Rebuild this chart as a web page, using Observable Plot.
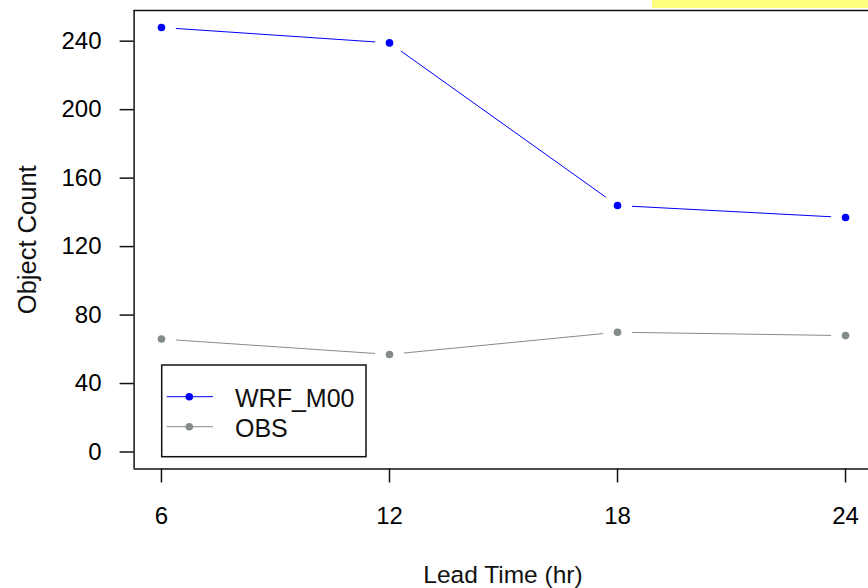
<!DOCTYPE html>
<html>
<head>
<meta charset="utf-8">
<script src="https://cdn.jsdelivr.net/npm/d3@7"></script>
<script src="https://cdn.jsdelivr.net/npm/@observablehq/plot@0.6"></script>
<style>
  html, body { margin: 0; padding: 0; background: white; overflow: hidden; }
  #wrap { position: relative; width: 868px; height: 588px; }
  #hl { position: absolute; left: 652px; top: 0; width: 216px; height: 8px; background: #FFFF80; }
</style>
</head>
<body>
<div id="wrap"><div id="hl"></div></div>
<script>
// ---- data ----
const leadHours = [6, 12, 18, 24];
const seriesNames = ["WRF_M00", "OBS"];
const seriesColors = ["#0000FF", "#838B8B"];
const wrfCounts = [248, 239, 144, 137];
const obsCounts = [66, 57, 70, 68];
const yTickValues = [0, 40, 80, 120, 160, 200, 240];
const xTickValues = [6, 12, 18, 24];
const xTitle = "Lead Time (hr)";
const yTitle = "Object Count";

// R-style 4% padded domains
const xDomain = [6 - 0.04 * 18, 24 + 0.04 * 18];
const yDomain = [0 - 0.04 * 248, 248 + 0.04 * 248];

const rows = [];
leadHours.forEach((h, i) => rows.push({hour: h, value: wrfCounts[i], series: seriesNames[0]}));
leadHours.forEach((h, i) => rows.push({hour: h, value: obsCounts[i], series: seriesNames[1]}));

const font = "'Liberation Sans', Arial, sans-serif";

const chart = Plot.plot({
  width: 868,
  height: 588,
  marginLeft: 133.6,
  marginTop: 10,
  marginBottom: 119.5,
  marginRight: 0,
  x: {domain: xDomain, range: [133.6, 872.4]},
  y: {domain: yDomain},
  color: {domain: seriesNames, range: seriesColors},
  style: {fontFamily: font, fontSize: "24px", color: "black", background: "white", overflow: "visible"},
  marks: [
    Plot.line(rows, {x: "hour", y: "value", z: "series", stroke: "series", strokeWidth: 1}),
    // R type="b": gaps in the line around each point
    Plot.dot(rows, {x: "hour", y: "value", r: 14, fill: "white", stroke: "white", strokeWidth: 1}),
    Plot.dot(rows, {x: "hour", y: "value", r: 3.8, fill: "series", strokeWidth: 0}),
    Plot.ruleX([xDomain[0]], {stroke: "#111", strokeWidth: 1.5}),
    Plot.ruleY(yDomain, {stroke: "#111", strokeWidth: 1.5}),
    Plot.axisX({ticks: xTickValues, tickSize: 14, tickPadding: 23.5, fontSize: 24, label: null, strokeWidth: 1.5, stroke: "#111"}),
    Plot.axisY({ticks: yTickValues, tickSize: 14, tickPadding: 18.6, fontSize: 24, label: null, strokeWidth: 1.5, stroke: "#111"}),
    Plot.text([xTitle], {text: d => d, frameAnchor: "bottom", textAnchor: "middle", lineAnchor: "middle", dy: 106.5, dx: 1.7, fontSize: 24.5, fill: "#111"}),
    Plot.text([yTitle], {text: d => d, frameAnchor: "left", textAnchor: "middle", lineAnchor: "middle", rotate: -90, dx: -106, fontSize: 25.5, fill: "#111"})
  ]
});

document.getElementById("wrap").insertBefore(chart, document.getElementById("hl"));

// ---- legend (R-style box, drawn inside the plot area) ----
const svg = d3.select(chart);
const lg = svg.append("g").attr("font-family", font).attr("font-size", 25).attr("text-anchor", "start");
lg.append("rect").attr("x", 161.7).attr("y", 365).attr("width", 204.3).attr("height", 91.7)
  .attr("fill", "white").attr("stroke", "#111").attr("stroke-width", 1.5);
seriesNames.forEach((name, i) => {
  const cy = 396.7 + i * 30;
  lg.append("line").attr("x1", 166.7).attr("x2", 213).attr("y1", cy).attr("y2", cy)
    .attr("stroke", seriesColors[i]).attr("stroke-width", 1);
  lg.append("circle").attr("cx", 189.3).attr("cy", cy).attr("r", 3.8).attr("fill", seriesColors[i]);
  lg.append("text").attr("x", 235).attr("y", cy + 9.8).attr("fill", "#111").attr("text-anchor", "start").text(name);
});
</script>
</body>
</html>
